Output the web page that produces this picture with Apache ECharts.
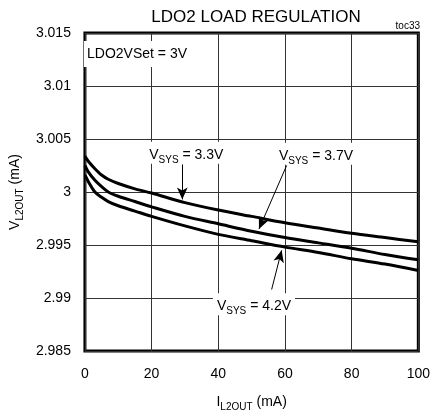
<!DOCTYPE html>
<html>
<head>
<meta charset="utf-8">
<script src="https://cdn.jsdelivr.net/npm/echarts@6/dist/echarts.min.js"></script>
<style>
  html, body { margin: 0; padding: 0; background: #fff; }
  #chart { width: 433px; height: 417px; }
</style>
</head>
<body>
<div id="chart"></div>
<script>
// load current in mA
var iLoad = [0, 1, 3, 5, 7, 10, 15, 20, 30, 40, 50, 60, 70, 80, 90, 100];
// output voltage for each VSYS
var vsys33 = [3.0034, 3.0029, 3.0022, 3.0016, 3.0012, 3.0008, 3.0003, 2.9999, 2.9990, 2.9983, 2.9977, 2.9971, 2.9966, 2.9961, 2.9957, 2.9953];
var vsys37 = [3.0025, 3.0019, 3.0011, 3.0005, 3.0000, 2.9996, 2.9991, 2.9986, 2.9977, 2.9970, 2.9963, 2.9957, 2.9952, 2.9947, 2.9941, 2.9936];
var vsys42 = [3.0016, 3.0010, 3.0000, 2.9995, 2.9991, 2.9987, 2.9982, 2.9977, 2.9968, 2.9960, 2.9954, 2.9948, 2.9943, 2.9937, 2.9932, 2.9926];
var xTicks = [0, 20, 40, 60, 80, 100];
var yTicks = [2.985, 2.99, 2.995, 3, 3.005, 3.01, 3.015];

var FONT = 'Liberation Sans Narrow, Liberation Sans, Arial, sans-serif';

function pairs(ys) {
    return iLoad.map(function (x, i) { return [x, ys[i]]; });
}

var richTxt = {
    v: { fontSize: 14, fontFamily: FONT, color: '#000', lineHeight: 18, verticalAlign: 'bottom' },
    s: { fontSize: 10, fontFamily: FONT, color: '#000', lineHeight: 14, verticalAlign: 'bottom', padding: [0, 0, -3, 0] }
};

function arrowLine(from, to) {
    return [{ coord: from }, { coord: to }];
}

function noteLabel(pos, txt) {
    return {
        coord: pos,
        symbol: 'rect',
        symbolSize: 1,
        itemStyle: { color: 'rgba(0,0,0,0)' },
        label: {
            show: true,
            position: 'inside',
            formatter: txt,
            backgroundColor: '#fff',
            padding: [2, 4, 2, 4],
            rich: richTxt
        }
    };
}

var myChart = echarts.init(document.getElementById('chart'));
var option = {
    animation: false,
    backgroundColor: '#fff',
    title: {
        text: 'LDO2 LOAD REGULATION',
        left: 251,
        textAlign: 'center',
        top: 4,
        textStyle: { fontFamily: FONT, fontSize: 17, fontWeight: 'normal', color: '#000' }
    },
    graphic: [{
        type: 'text',
        right: 13,
        top: 21,
        style: { text: 'toc33', font: '10px ' + FONT, fill: '#000' }
    }, {
        type: 'text',
        left: 84,
        top: 41,
        z: 10,
        style: {
            text: 'LDO2VSet = 3V', font: '14px ' + FONT, fill: '#000',
            backgroundColor: '#fff', padding: [6, 4, 6, 3]
        }
    }],
    grid: {
        left: 80, right: 14, top: 33, bottom: 59,
        show: true,
        borderColor: '#000',
        borderWidth: 3,
        backgroundColor: 'transparent'
    },
    xAxis: {
        type: 'value',
        min: 0, max: 100, interval: 20,
        name: '{v|I}{s|L2OUT}{v| (mA)}',
        nameLocation: 'middle',
        nameGap: 40,
        nameTextStyle: { rich: richTxt },
        axisLine: { show: false },
        axisTick: { show: false },
        axisLabel: {
            margin: 16,
            fontSize: 14, fontFamily: FONT, color: '#000',
            formatter: function (v) { return xTicks.indexOf(v) >= 0 ? String(v) : ''; }
        },
        splitLine: { show: true, lineStyle: { color: '#333', width: 1 } }
    },
    yAxis: {
        type: 'value',
        min: 2.985, max: 3.015, interval: 0.005,
        name: '{v|V}{s|L2OUT}{v| (mA)}',
        nameLocation: 'middle',
        nameGap: 58,
        nameTextStyle: { rich: richTxt },
        axisLine: { show: false },
        axisTick: { show: false },
        axisLabel: {
            margin: 14,
            fontSize: 14, fontFamily: FONT, color: '#000',
            formatter: function (v) {
                var r = +(+v).toFixed(3);
                for (var i = 0; i < yTicks.length; i++) {
                    if (Math.abs(yTicks[i] - r) < 1e-6) return String(yTicks[i]);
                }
                return '';
            }
        },
        splitLine: { show: true, lineStyle: { color: '#333', width: 1 } }
    },
    series: [{
        name: 'VSYS = 3.3V',
        type: 'line',
        data: pairs(vsys33),
        smooth: 0.3,
        showSymbol: false,
        lineStyle: { color: '#000', width: 3 },
        markLine: {
            silent: true,
            symbol: ['none', 'arrow'],
            symbolSize: [8, 12],
            label: { show: false },
            lineStyle: { color: '#000', width: 1, type: 'solid' },
            data: [
                arrowLine([29.2, 3.0026], [29.2, 2.9993]),
                arrowLine([60.5, 3.0025], [52.2, 2.9965]),
                arrowLine([56.0, 2.9908], [59.0, 2.9945])
            ]
        },
        markPoint: {
            silent: true,
            data: [
                noteLabel([30.4, 3.0037], '{v|V}{s|SYS}{v| = 3.3V}'),
                noteLabel([69.3, 3.0036], '{v|V}{s|SYS}{v| = 3.7V}'),
                noteLabel([50.7, 2.9894], '{v|V}{s|SYS}{v| = 4.2V}')
            ]
        },
        z: 3
    }, {
        name: 'VSYS = 3.7V',
        type: 'line',
        data: pairs(vsys37),
        smooth: 0.3,
        showSymbol: false,
        lineStyle: { color: '#000', width: 3 },
        z: 3
    }, {
        name: 'VSYS = 4.2V',
        type: 'line',
        data: pairs(vsys42),
        smooth: 0.3,
        showSymbol: false,
        lineStyle: { color: '#000', width: 3 },
        z: 3
    }]
};
myChart.setOption(option);
</script>
</body>
</html>
